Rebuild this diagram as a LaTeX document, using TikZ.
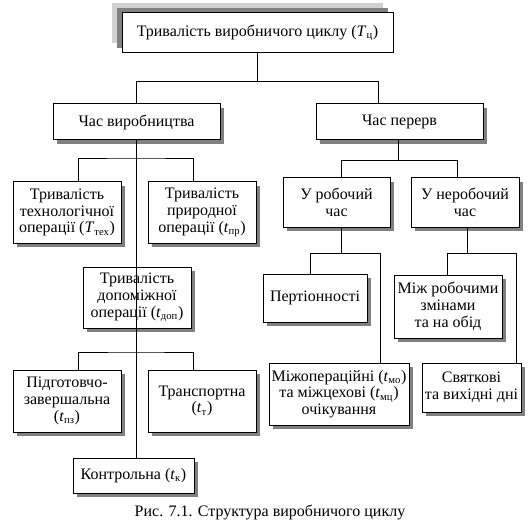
\documentclass[tikz,border=0pt]{standalone}
\usepackage{fontspec}
\setmainfont{Liberation Serif}
\usetikzlibrary{shadows,calc}
\begin{document}
\begin{tikzpicture}[x=0.75pt,y=-0.75pt,
  line width=0.75pt,
  box/.style={draw=black, fill=white, align=center, inner sep=1pt,
    font=\fontsize{12}{12.6}\selectfont,
    drop shadow={shadow xshift=3pt, shadow yshift=-3pt, fill=black!50, opacity=1}},
  topbox/.style={draw=black, fill=white, align=center, inner sep=1pt,
    font=\fontsize{12}{12.6}\selectfont,
    drop shadow={shadow xshift=-7.5pt, shadow yshift=7.5pt, fill=black!18, opacity=1},
    drop shadow={shadow xshift=-3.75pt, shadow yshift=3.75pt, fill=black!50, opacity=1}},
  conn/.style={draw=black, line width=0.75pt}]
\useasboundingbox (0,0) rectangle (529,528);
\fill[white] (0,0) rectangle (529,528);
\newcommand\tsub[2]{(\textit{#1}\textsubscript{#2})}
% boxes
\node[topbox, minimum width=203.25pt, minimum height=30pt] (top) at (257.5,33) {Тривалість виробничого циклу \tsub{T}{ц}};
\node[box, minimum width=125.25pt, minimum height=27pt] (prod) at (136.5,122) {Час виробництва};
\node[box, minimum width=125.25pt, minimum height=27pt] (perv) at (399.5,122) {Час перерв};
\node[box, minimum width=81pt, minimum height=45.75pt] (teh) at (67,212.5) {Тривалість\\технологічної\\операції \tsub{T}{тех}};
\node[box, minimum width=81pt, minimum height=45.75pt] (prir) at (202,212.5) {Тривалість\\природної\\операції \tsub{t}{пр}};
\node[box, minimum width=81pt, minimum height=45.75pt] (dop) at (137,297.5) {Тривалість\\допоміжної\\операції \tsub{t}{доп}};
\node[box, minimum width=81pt, minimum height=46.5pt] (pidg) at (67,401) {Підготовчо-\\завершальна\\\tsub{t}{пз}};
\node[box, minimum width=81pt, minimum height=46.5pt] (trans) at (202,401) {Транспортна\\\tsub{t}{т}};
\node[box, minimum width=90.75pt, minimum height=26.25pt] (kontr) at (133.5,475.5) {Контрольна \tsub{t}{к}};
\node[box, minimum width=80.25pt, minimum height=36.75pt] (rob) at (336.5,202.5) {У робочий\\час};
\node[box, minimum width=81pt, minimum height=36.75pt] (nerob) at (465,202.5) {У неробочий\\час};
\node[box, minimum width=78pt, minimum height=36pt] (pert) at (315,298) {Пертіонності};
\node[box, minimum width=81pt, minimum height=47.25pt] (mizh) at (448,306.5) {Між робочими\\змінами\\та на обід};
\node[box, minimum width=105pt, minimum height=46.5pt] (mizhop) at (339,394) {Міжопераційні \tsub{t}{мо}\\та міжцехові \tsub{t}{мц}\\очікування};
\node[box, minimum width=74.25pt, minimum height=36.75pt] (svyat) at (471.5,387.5) {Святкові\\та вихідні дні};
% caption
\node[font=\fontsize{12}{14}\selectfont, inner sep=0pt] (cap) at (270,512) {Рис. 7.1. Структура виробничого циклу};
% connectors
\draw[conn] (top.south) -- ++(0,28) coordinate (j1);
\draw[conn] (prod.north) |- (j1) -| ([xshift=-15.4pt]perv.north);
\draw[conn] (prod.south) -- (prod.south |- kontr.north);
\coordinate (b1) at (136.5,159);
\draw[conn] ([xshift=8.25pt]teh.north) |- (b1) -| ([xshift=-6.75pt]prir.north);
\coordinate (b2) at (136.5,352);
\draw[conn] ([xshift=8.25pt]pidg.north) |- (b2) -| ([xshift=-6.75pt]trans.north);
\draw[conn] ([xshift=-1.1pt]perv.south) -- ++(0,20) coordinate (b3);
\draw[conn] ([xshift=4.1pt]rob.north) |- (b3) -| ([xshift=-6pt]nerob.north);
\draw[conn] ([xshift=4.1pt]rob.south) -- ++(0,26) coordinate (b4);
\draw[conn] ([xshift=-3.75pt]pert.north) |- (b4) -| ([xshift=30.75pt]mizhop.north);
\draw[conn] ([xshift=1.5pt]nerob.south) -- ++(0,26) coordinate (b5);
\draw[conn] ([xshift=-0.75pt]mizh.north) |- (b5) -| ([xshift=34.1pt]svyat.north);
\end{tikzpicture}
\end{document}
